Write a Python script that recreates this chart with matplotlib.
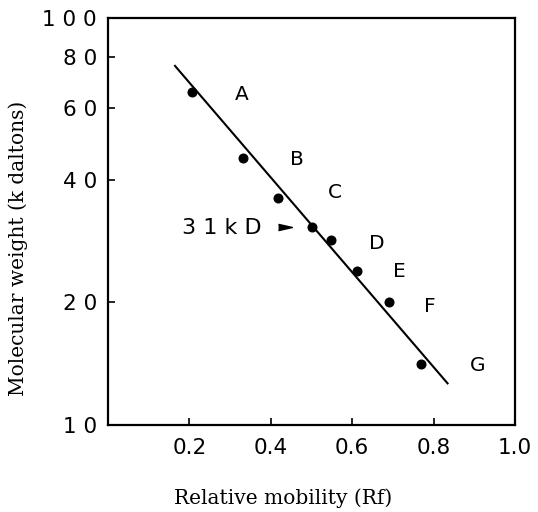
import matplotlib
matplotlib.use("Agg")
import matplotlib.pyplot as plt
from matplotlib.ticker import FixedLocator, FixedFormatter, NullLocator

# Data
rf = [0.206, 0.332, 0.418, 0.502, 0.548, 0.613, 0.690, 0.768]
mw = [65.9, 45.2, 36.1, 30.6, 28.4, 23.9, 20.1, 14.1]

# Fitted standard line (end points)
line_rf = [0.163, 0.836]
line_mw = [76.6, 12.6]

# Marker letters
letters = ["A", "B", "C", "D", "E", "F", "G"]
letter_rf = [0.329, 0.464, 0.558, 0.661, 0.715, 0.791, 0.909]
letter_mw = [64.7, 44.8, 37.2, 28.0, 23.8, 19.6, 14.0]

# Tick labels
yticks = [10, 20, 40, 60, 80, 100]
ytick_labels = ["1 0", "2 0", "4 0", "6 0", "8 0", "1 0 0"]
xticks = [0.2, 0.4, 0.6, 0.8, 1.0]
xtick_labels = ["0.2", "0.4", "0.6", "0.8", "1.0"]

fig = plt.figure(figsize=(5.38, 5.12), dpi=100)
ax = fig.add_axes([108/538, 1-425/512, (515-108)/538, (425-18)/512])

ax.set_yscale("log")
ax.set_xlim(0, 1.0)
ax.set_ylim(10, 100)

ax.plot(line_rf, line_mw, color="black", lw=1.5, solid_capstyle="butt")
ax.plot(rf, mw, "o", color="black", markersize=6.2)

for lab, x, y in zip(letters, letter_rf, letter_mw):
    ax.text(x, y, lab, fontsize=14.5, ha="center", va="center", family="DejaVu Sans")

ax.text(0.378, 30.5, "3 1 k D", fontsize=16, ha="right", va="center", family="DejaVu Sans")
ax.plot([0.434], [30.6], marker=[(-1, -0.45), (1, 0), (-1, 0.45)], color="black",
        markersize=10, linestyle="none")

ax.yaxis.set_major_locator(FixedLocator(yticks))
ax.yaxis.set_major_formatter(FixedFormatter(ytick_labels))
ax.yaxis.set_minor_locator(NullLocator())
ax.xaxis.set_major_locator(FixedLocator(xticks))
ax.xaxis.set_major_formatter(FixedFormatter(xtick_labels))

ax.tick_params(axis="both", direction="in", length=5, width=1.2, labelsize=15.5)
ax.tick_params(axis="y", pad=8)
ax.tick_params(axis="x", pad=9)

for s in ax.spines.values():
    s.set_linewidth(1.6)

ax.set_xlabel("Relative mobility (Rf)", family="DejaVu Serif", fontsize=14.5, va="center")
ax.set_ylabel("Molecular weight (k daltons)", family="DejaVu Serif", fontsize=14.5, va="center")
ax.xaxis.set_label_coords(0.43, -0.179)
ax.yaxis.set_label_coords(-0.221, 0.435)

fig.savefig("out.png", dpi=100)
